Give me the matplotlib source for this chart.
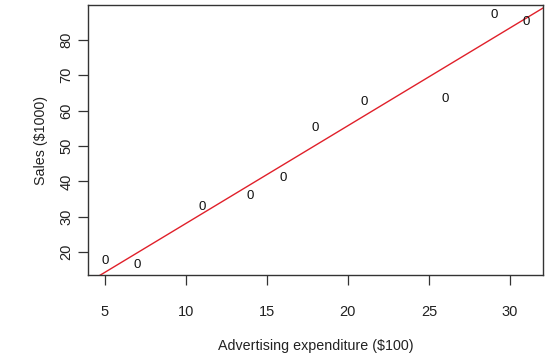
import numpy as np
import matplotlib
matplotlib.use("Agg")
import matplotlib.pyplot as plt

# Advertising expenditure ($100) and sales ($1000)
advertising = [5, 7, 11, 14, 16, 18, 21, 26, 29, 31]
sales = [17.5, 16.4, 32.9, 36.0, 41.0, 55.0, 62.4, 63.3, 87.0, 85.1]
x_ticks = [5, 10, 15, 20, 25, 30]
y_ticks = [20, 30, 40, 50, 60, 70, 80]

plt.rcParams['font.family'] = ['Liberation Sans', 'DejaVu Sans']

fig = plt.figure(figsize=(5.46, 3.55), dpi=100)
ax = fig.add_axes([88 / 546, 1 - 275 / 355, (543 - 88) / 546, (275 - 5) / 355])

x = np.array(advertising, dtype=float)
y = np.array(sales, dtype=float)

# R-style 4% padding around the data range
xr = x.max() - x.min()
yr = y.max() - y.min()
ax.set_xlim(x.min() - 0.04 * xr, x.max() + 0.04 * xr)
ax.set_ylim(y.min() - 0.04 * yr, y.max() + 0.04 * yr)

# points drawn as "0" glyphs
for xi, yi in zip(advertising, sales):
    ax.text(xi, yi, "0", ha="center", va="center", fontsize=9.5, color="#111111")

# least-squares fit line
slope, intercept = np.polyfit(x, y, 1)
xx = np.array(ax.get_xlim())
ax.plot(xx, intercept + slope * xx, color="#e0202a", lw=1.0)
ax.set_xlim(xx)

ax.set_xticks(x_ticks)
ax.set_yticks(y_ticks)
ax.tick_params(direction="out", length=7, width=0.9, colors="#333333",
               labelsize=10.5, labelcolor="#222222")
ax.tick_params(axis="x", pad=14.5)
ax.tick_params(axis="y", pad=3.5)
for lab in ax.get_yticklabels():
    lab.set_rotation(90)
    lab.set_va("center")
for sp in ax.spines.values():
    sp.set_color("#333333")
    sp.set_linewidth(1.0)

ax.set_xlabel("Advertising expenditure ($100)", fontsize=10.3, color="#222222", labelpad=14.5)
ax.set_ylabel("Sales ($1000)", fontsize=10.3, color="#222222", labelpad=8)

fig.savefig("out.png", dpi=100)
